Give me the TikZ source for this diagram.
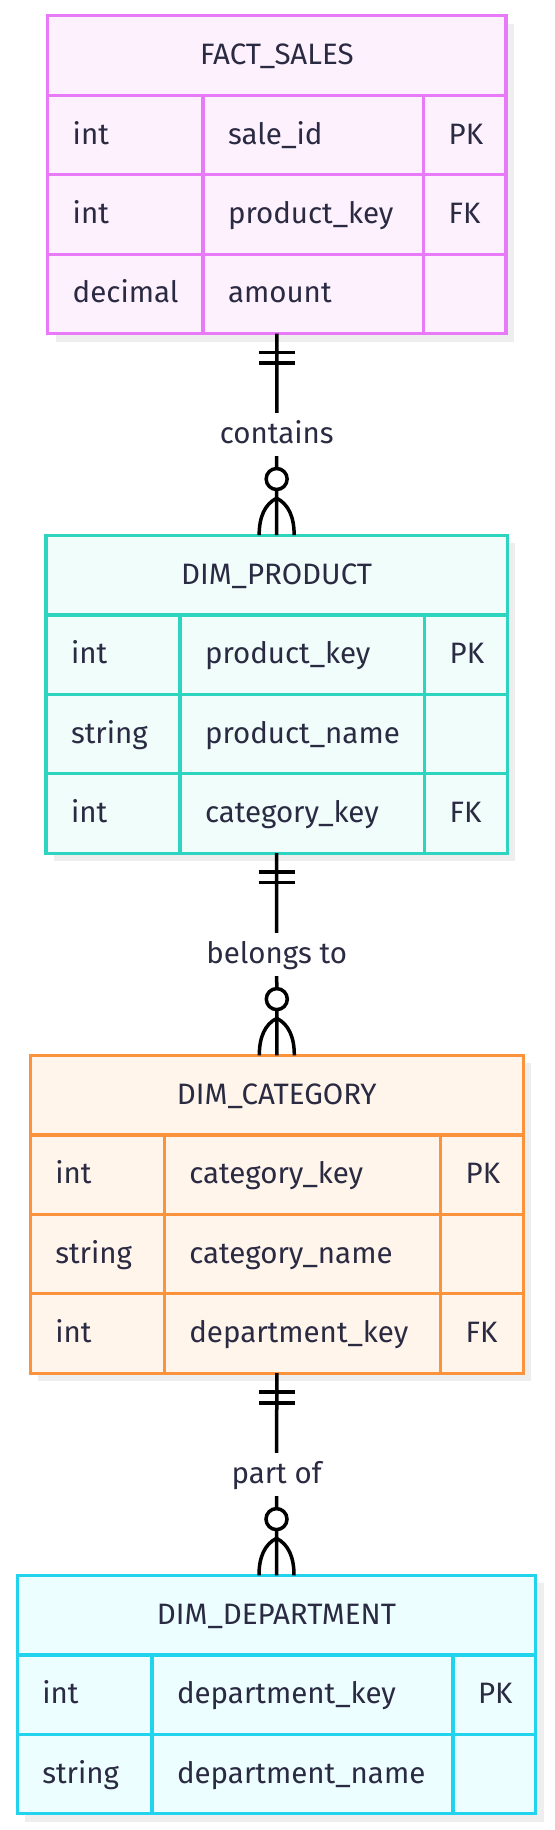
\documentclass[tikz,border=0pt]{standalone}
\usepackage{fontspec}
\setmainfont{Fira Sans}
\usetikzlibrary{calc,shadows}
\definecolor{txt}{HTML}{2A2A42}
\definecolor{shd}{HTML}{EEEEEE}
\definecolor{fsc}{HTML}{E879F9}\definecolor{fsf}{HTML}{FEF1FE}
\definecolor{prc}{HTML}{2DD4BF}\definecolor{prf}{HTML}{F0FDFA}
\definecolor{cac}{HTML}{FB923C}\definecolor{caf}{HTML}{FFF5EB}
\definecolor{dpc}{HTML}{22D3EE}\definecolor{dpf}{HTML}{ECFEFF}
\newcommand\setcols[4]{\def\cxa{#1}\def\cxb{#2}\def\cxc{#3}%
  \pgfmathsetmacro\cwa{#2-#1-50}\pgfmathsetmacro\cwb{#3-#2-50}\pgfmathsetmacro\cwc{#4-#3-50}}
\newcommand\errow[6]{%
  \node[cell=#2, text width=\cwa pt] (#1a) at (\cxa,#3) {#4};
  \node[cell=#2, text width=\cwb pt] (#1b) at (\cxb,#3) {#5};
  \node[cell=#2, text width=\cwc pt] (#1c) at (\cxc,#3) {#6};}
\tikzset{
  tbl/.style={draw=#1, line width=3.2pt, inner sep=0pt, outer sep=0pt, anchor=north west,
    drop shadow={shadow xshift=8pt, shadow yshift=-8pt, fill=shd, opacity=1}},
  cell/.style={draw=#1, line width=3.2pt, outer sep=0pt, anchor=north west,
    minimum height=79.4pt, inner xsep=25pt, inner ysep=0pt, align=left,
    text height=20pt, text depth=2pt, text=txt, font=\fontsize{29.5}{34}\selectfont},
  head/.style={cell=#1, minimum height=79.7pt, align=center},
  rel/.style={line width=3.5pt, draw=black},
  lbl/.style={fill=white, text=txt, font=\fontsize{29.5}{34}\selectfont,
    text height=20pt, text depth=2pt, inner xsep=4pt, inner ysep=10.6pt}
}
\begin{document}
\begin{tikzpicture}[x=1pt,y=-1pt]
\useasboundingbox (0,0) rectangle (554,1830);
% FACT_SALES
\node[tbl=fsc, fill=fsf, minimum width=458.3pt, minimum height=317.9pt] (fact) at (47.7,15.7) {};
\node[head=fsc, text width=408.3pt] (facth) at (47.7,15.7) {FACT\_SALES};
\setcols{47.7}{203}{423.7}{506}
\errow{fs1}{fsc}{95.4}{int}{sale\_id}{PK}
\errow{fs2}{fsc}{174.8}{int}{product\_key}{FK}
\errow{fs3}{fsc}{254.2}{decimal}{amount}{}
% DIM_PRODUCT
\node[tbl=prc, fill=prf, minimum width=461.3pt, minimum height=317.9pt] (prod) at (46,535.2) {};
\node[head=prc, text width=411.3pt] (prodh) at (46,535.2) {DIM\_PRODUCT};
\setcols{46}{180}{424.7}{507.3}
\errow{pr1}{prc}{614.9}{int}{product\_key}{PK}
\errow{pr2}{prc}{694.3}{string}{product\_name}{}
\errow{pr3}{prc}{773.7}{int}{category\_key}{FK}
% DIM_CATEGORY
\node[tbl=cac, fill=caf, minimum width=493pt, minimum height=317.9pt] (cat) at (30.3,1055.3) {};
\node[head=cac, text width=443pt] (cath) at (30.3,1055.3) {DIM\_CATEGORY};
\setcols{30.3}{164.3}{440.7}{523.3}
\errow{ca1}{cac}{1135}{int}{category\_key}{PK}
\errow{ca2}{cac}{1214.4}{string}{category\_name}{}
\errow{ca3}{cac}{1293.8}{int}{department\_key}{FK}
% DIM_DEPARTMENT
\node[tbl=dpc, fill=dpf, minimum width=518.4pt, minimum height=238.5pt] (dept) at (17.3,1575.3) {};
\node[head=dpc, text width=468.4pt] (depth) at (17.3,1575.3) {DIM\_DEPARTMENT};
\setcols{17.3}{152}{453}{535.7}
\errow{dp1}{dpc}{1655}{int}{department\_key}{PK}
\errow{dp2}{dpc}{1734.4}{string}{department\_name}{}
% relationships
\foreach \a/\b/\t in {fact/prod/contains, prod/cat/belongs to, cat/dept/part of}{
  \draw[rel] (\a.south) -- node[lbl]{\t} (\b.north);
  \draw[rel] ($(\a.south)+(-18,19)$) -- ($(\a.south)+(18,19)$);
  \draw[rel] ($(\a.south)+(-18,29.6)$) -- ($(\a.south)+(18,29.6)$);
  \draw[rel] ($(\b.north)+(0,-37)$) .. controls ($(\b.north)+(-12,-31)$) and ($(\b.north)+(-17.5,-18)$) .. ($(\b.north)+(-17.5,0)$);
  \draw[rel] ($(\b.north)+(0,-37)$) .. controls ($(\b.north)+(12,-31)$) and ($(\b.north)+(17.5,-18)$) .. ($(\b.north)+(17.5,0)$);
  \draw[rel, fill=white] ($(\b.north)+(0,-56.2)$) circle (10.5pt);
}
\end{tikzpicture}
\end{document}
